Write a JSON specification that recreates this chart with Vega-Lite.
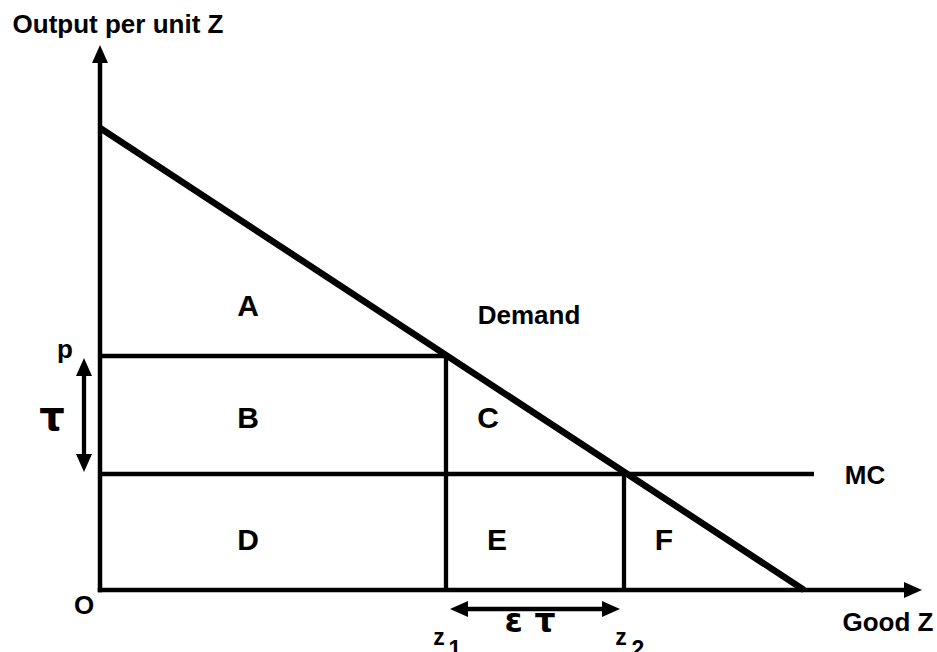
{
  "$schema": "https://vega.github.io/schema/vega-lite/v6.json",
  "width": 937,
  "height": 652,
  "padding": 0,
  "autosize": {"type": "none"},
  "background": "white",
  "config": {"view": {"stroke": null}},
  "datasets": {
    "segs": [
      {"seg": "yaxis", "kind": "axis", "x": 0, "y": 0, "x2": 0, "y2": 532},
      {"seg": "xaxis", "kind": "axis", "x": 0, "y": 0, "x2": 808, "y2": 0},
      {"seg": "demand", "kind": "demand", "x": 0, "y": 462, "x2": 704, "y2": 0},
      {"seg": "price", "kind": "line", "x": 0, "y": 234, "x2": 346, "y2": 234},
      {"seg": "z1", "kind": "line", "x": 346, "y": 0, "x2": 346, "y2": 234},
      {"seg": "mc", "kind": "line", "x": 0, "y": 116, "x2": 714, "y2": 116},
      {"seg": "z2", "kind": "line", "x": 524, "y": 0, "x2": 524, "y2": 116},
      {"seg": "tau", "kind": "line", "x": -16, "y": 222, "x2": -16, "y2": 128},
      {"seg": "epstau", "kind": "line", "x": 360, "y": -19, "x2": 510, "y2": -19}
    ],
    "heads": [
      {"x": 0, "y": 535, "dir": "up"},
      {"x": 812, "y": 0, "dir": "right"},
      {"x": -16, "y": 222, "dir": "up"},
      {"x": -16, "y": 128, "dir": "down"},
      {"x": 360, "y": -19, "dir": "left"},
      {"x": 510, "y": -19, "dir": "right"}
    ],
    "labels": [
      {"text": "Output per unit Z", "cls": "word", "x": 18, "y": 557},
      {"text": "Demand", "cls": "word", "x": 429, "y": 266},
      {"text": "MC", "cls": "word", "x": 765, "y": 106},
      {"text": "Good Z", "cls": "word", "x": 788, "y": -41},
      {"text": "O", "cls": "word", "x": -16, "y": -24},
      {"text": "p", "cls": "word", "x": -35, "y": 232},
      {"text": "A", "cls": "region", "x": 148, "y": 274},
      {"text": "B", "cls": "region", "x": 148, "y": 162},
      {"text": "C", "cls": "region", "x": 388, "y": 162},
      {"text": "D", "cls": "region", "x": 148, "y": 40},
      {"text": "E", "cls": "region", "x": 397, "y": 40},
      {"text": "F", "cls": "region", "x": 564, "y": 40},
      {"text": "τ", "cls": "tau", "x": -48, "y": 160},
      {"text": "ε τ", "cls": "epstau", "x": 430, "y": -42},
      {"text": "z", "cls": "sub", "x": 339, "y": -55},
      {"text": "1", "cls": "sub", "x": 355, "y": -67},
      {"text": "z", "cls": "sub", "x": 521, "y": -55},
      {"text": "2", "cls": "sub", "x": 538, "y": -67}
    ]
  },
  "layer": [
    {
      "data": {"name": "segs"},
      "transform": [{"filter": "datum.kind === 'axis'"}],
      "mark": {"type": "rule", "color": "black", "strokeWidth": 4.5, "strokeCap": "square"},
      "encoding": {
        "x": {"field": "x", "type": "quantitative", "axis": null, "scale": {"domain": [-100, 837], "nice": false, "zero": false}},
        "y": {"field": "y", "type": "quantitative", "axis": null, "scale": {"domain": [-62, 590], "nice": false, "zero": false}},
        "x2": {"field": "x2"},
        "y2": {"field": "y2"}
      }
    },
    {
      "data": {"name": "segs"},
      "transform": [{"filter": "datum.kind === 'line'"}],
      "mark": {"type": "rule", "color": "black", "strokeWidth": 4.3},
      "encoding": {
        "x": {"field": "x", "type": "quantitative", "axis": null, "scale": {"domain": [-100, 837], "nice": false, "zero": false}},
        "y": {"field": "y", "type": "quantitative", "axis": null, "scale": {"domain": [-62, 590], "nice": false, "zero": false}},
        "x2": {"field": "x2"},
        "y2": {"field": "y2"}
      }
    },
    {
      "data": {"name": "segs"},
      "transform": [{"filter": "datum.kind === 'demand'"}],
      "mark": {"type": "rule", "color": "black", "strokeWidth": 6.5},
      "encoding": {
        "x": {"field": "x", "type": "quantitative", "axis": null, "scale": {"domain": [-100, 837], "nice": false, "zero": false}},
        "y": {"field": "y", "type": "quantitative", "axis": null, "scale": {"domain": [-62, 590], "nice": false, "zero": false}},
        "x2": {"field": "x2"},
        "y2": {"field": "y2"}
      }
    },
    {
      "data": {"name": "heads"},
      "mark": {"type": "point", "filled": true, "color": "black", "opacity": 1, "size": 400, "strokeWidth": 0},
      "encoding": {
        "x": {"field": "x", "type": "quantitative", "axis": null, "scale": {"domain": [-100, 837], "nice": false, "zero": false}},
        "y": {"field": "y", "type": "quantitative", "axis": null, "scale": {"domain": [-62, 590], "nice": false, "zero": false}},
        "shape": {
          "field": "dir", "type": "nominal", "legend": null,
          "scale": {
            "domain": ["up", "down", "left", "right"],
            "range": ["M0,-1L0.8,0.8L-0.8,0.8Z", "M0,1L0.8,-0.8L-0.8,-0.8Z", "M-1,0L0.8,0.8L0.8,-0.8Z", "M1,0L-0.8,0.8L-0.8,-0.8Z"]
          }
        }
      }
    },
    {
      "data": {"name": "labels"},
      "transform": [{"filter": "datum.cls === 'word'"}],
      "mark": {"type": "text", "font": "Liberation Sans", "fontWeight": "bold", "fontSize": 26, "align": "center", "baseline": "alphabetic", "color": "black"},
      "encoding": {
        "x": {"field": "x", "type": "quantitative", "axis": null, "scale": {"domain": [-100, 837], "nice": false, "zero": false}},
        "y": {"field": "y", "type": "quantitative", "axis": null, "scale": {"domain": [-62, 590], "nice": false, "zero": false}},
        "text": {"field": "text"}
      }
    },
    {
      "data": {"name": "labels"},
      "transform": [{"filter": "datum.cls === 'region'"}],
      "mark": {"type": "text", "font": "Liberation Sans", "fontWeight": "bold", "fontSize": 30, "align": "center", "baseline": "alphabetic", "color": "black"},
      "encoding": {
        "x": {"field": "x", "type": "quantitative", "axis": null, "scale": {"domain": [-100, 837], "nice": false, "zero": false}},
        "y": {"field": "y", "type": "quantitative", "axis": null, "scale": {"domain": [-62, 590], "nice": false, "zero": false}},
        "text": {"field": "text"}
      }
    },
    {
      "data": {"name": "labels"},
      "transform": [{"filter": "datum.cls === 'tau'"}],
      "mark": {"type": "text", "font": "DejaVu Sans", "fontWeight": "bold", "fontSize": 40, "align": "center", "baseline": "alphabetic", "color": "black"},
      "encoding": {
        "x": {"field": "x", "type": "quantitative", "axis": null, "scale": {"domain": [-100, 837], "nice": false, "zero": false}},
        "y": {"field": "y", "type": "quantitative", "axis": null, "scale": {"domain": [-62, 590], "nice": false, "zero": false}},
        "text": {"field": "text"}
      }
    },
    {
      "data": {"name": "labels"},
      "transform": [{"filter": "datum.cls === 'epstau'"}],
      "mark": {"type": "text", "font": "DejaVu Sans", "fontWeight": "bold", "fontSize": 33, "align": "center", "baseline": "alphabetic", "color": "black"},
      "encoding": {
        "x": {"field": "x", "type": "quantitative", "axis": null, "scale": {"domain": [-100, 837], "nice": false, "zero": false}},
        "y": {"field": "y", "type": "quantitative", "axis": null, "scale": {"domain": [-62, 590], "nice": false, "zero": false}},
        "text": {"field": "text"}
      }
    },
    {
      "data": {"name": "labels"},
      "transform": [{"filter": "datum.cls === 'sub'"}],
      "mark": {"type": "text", "font": "Liberation Sans", "fontWeight": "bold", "fontSize": 23, "align": "center", "baseline": "alphabetic", "color": "black"},
      "encoding": {
        "x": {"field": "x", "type": "quantitative", "axis": null, "scale": {"domain": [-100, 837], "nice": false, "zero": false}},
        "y": {"field": "y", "type": "quantitative", "axis": null, "scale": {"domain": [-62, 590], "nice": false, "zero": false}},
        "text": {"field": "text"}
      }
    }
  ]
}
